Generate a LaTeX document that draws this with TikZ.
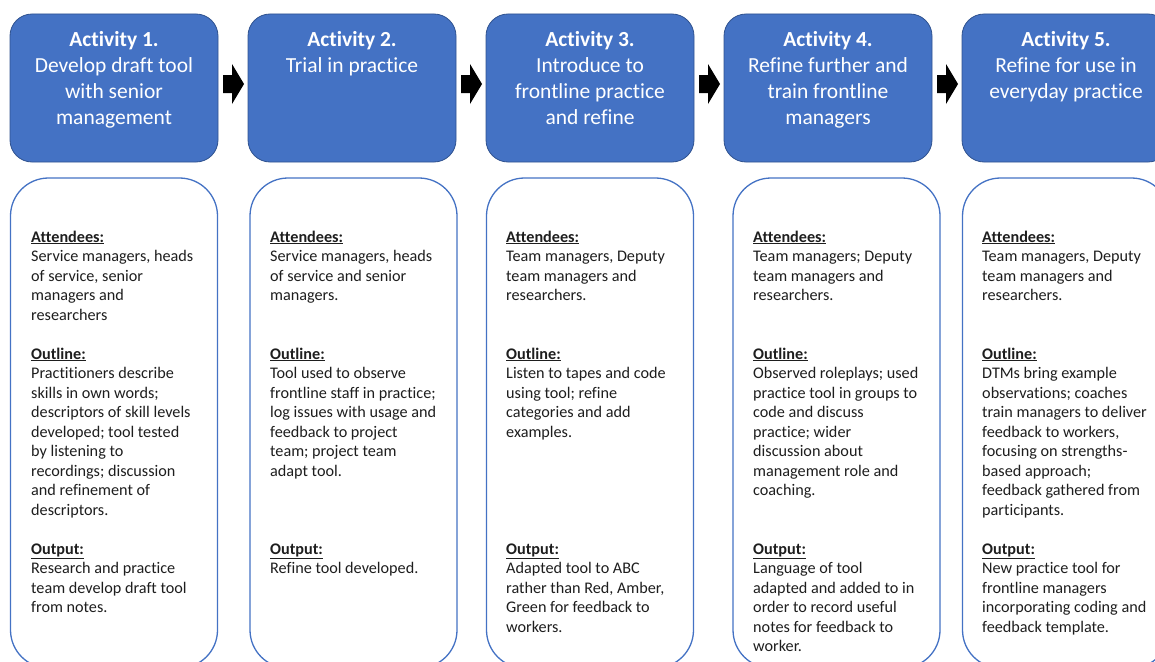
\documentclass[tikz,border=0pt]{standalone}
\usepackage{fontspec}
\setmainfont[Ligatures={NoCommon}]{Carlito}
\definecolor{actblue}{HTML}{4472C4}
\definecolor{actedge}{HTML}{2F528F}
\definecolor{bodytxt}{HTML}{1E1E1E}
\newcommand\bxtext[1]{\parbox[t]{205pt}{\raggedright\fontsize{16.2}{19.5}\selectfont #1}}
\newcommand\tltext[1]{\parbox[t]{205pt}{\centering\fontsize{21.5}{26}\selectfont #1}}
\newcommand\hdr[1]{\underline{\textbf{#1}}}
\begin{document}
\begin{tikzpicture}[x=1pt,y=-1pt,
  topbox/.style={fill=actblue, draw=actedge, line width=0.8pt, rounded corners=22pt,
    minimum width=208pt, minimum height=148pt, anchor=north west, inner sep=0, outer sep=0},
  lowbox/.style={fill=white, draw=actblue, line width=1.3pt, rounded corners=38pt,
    minimum width=207pt, minimum height=490pt, anchor=north west, inner sep=0, outer sep=0},
  title/.style={anchor=base, inner sep=0, text=white},
  body/.style={anchor=base west, inner sep=0, text=bodytxt},
  blockarrow/.style={fill=black}]
\useasboundingbox (0,0) rectangle (1155,661);
\clip (0,0) rectangle (1155,661);

% top boxes
\node[topbox] (t1) at (10,14) {};
\node[topbox] (t2) at (248,14) {};
\node[topbox] (t3) at (486,14) {};
\node[topbox] (t4) at (724,14) {};
\node[topbox] (t5) at (962,14) {};

% lower boxes
\node[lowbox] (l1) at (10.5,178) {};
\node[lowbox] (l2) at (250,178) {};
\node[lowbox] (l3) at (486.5,178) {};
\node[lowbox] (l4) at (733,178) {};
\node[lowbox] (l5) at (962.5,178) {};

% arrows
\foreach \i in {0,...,3}{
  \pgfmathsetmacro{\ax}{223+238*\i}
  \fill[blockarrow] (\ax,75) -- ({\ax+9},75) -- ({\ax+9},64) -- ({\ax+21},84)
    -- ({\ax+9},104) -- ({\ax+9},93) -- (\ax,93) -- cycle;
}

% titles
\node[title] (tt1) at (114,46.7) {\tltext{\textbf{Activity 1.}\\Develop draft tool\\with senior\\management}};
\node[title] (tt2) at (352,46.7) {\tltext{\textbf{Activity 2.}\\Trial in practice}};
\node[title] (tt3) at (590,46.7) {\tltext{\textbf{Activity 3.}\\Introduce to\\frontline practice\\and refine}};
\node[title] (tt4) at (828,46.7) {\tltext{\textbf{Activity 4.}\\Refine further and\\train frontline\\managers}};
\node[title] (tt5) at (1066,46.7) {\tltext{\textbf{Activity 5.}\\Refine for use in\\everyday practice}};

% box 1
\node[body] (a1) at (31,242) {\bxtext{\hdr{Attendees:}\\Service managers, heads\\of service, senior\\managers and\\researchers}};
\node[body] (o1) at (31,359) {\bxtext{\hdr{Outline:}\\Practitioners describe\\skills in own words;\\descriptors of skill levels\\developed; tool tested\\by listening to\\recordings; discussion\\and refinement of\\descriptors.}};
\node[body] (r1) at (31,554) {\bxtext{\hdr{Output:}\\Research and practice\\team develop draft tool\\from notes.}};

% box 2
\node[body] (a2) at (270,242) {\bxtext{\hdr{Attendees:}\\Service managers, heads\\of service and senior\\managers.}};
\node[body] (o2) at (270,359) {\bxtext{\hdr{Outline:}\\Tool used to observe\\frontline staff in practice;\\log issues with usage and\\feedback to project\\team; project team\\adapt tool.}};
\node[body] (r2) at (270,554) {\bxtext{\hdr{Output:}\\Refine tool developed.}};

% box 3
\node[body] (a3) at (506,242) {\bxtext{\hdr{Attendees:}\\Team managers, Deputy\\team managers and\\researchers.}};
\node[body] (o3) at (506,359) {\bxtext{\hdr{Outline:}\\Listen to tapes and code\\using tool; refine\\categories and add\\examples.}};
\node[body] (r3) at (506,554) {\bxtext{\hdr{Output:}\\Adapted tool to ABC\\rather than Red, Amber,\\Green for feedback to\\workers.}};

% box 4
\node[body] (a4) at (753,242) {\bxtext{\hdr{Attendees:}\\Team managers; Deputy\\team managers and\\researchers.}};
\node[body] (o4) at (753,359) {\bxtext{\hdr{Outline:}\\Observed roleplays; used\\practice tool in groups to\\code and discuss\\practice; wider\\discussion about\\management role and\\coaching.}};
\node[body] (r4) at (753,554) {\bxtext{\hdr{Output:}\\Language of tool\\adapted and added to in\\order to record useful\\notes for feedback to\\worker.}};

% box 5
\node[body] (a5) at (982,242) {\bxtext{\hdr{Attendees:}\\Team managers, Deputy\\team managers and\\researchers.}};
\node[body] (o5) at (982,359) {\bxtext{\hdr{Outline:}\\DTMs bring example\\observations; coaches\\train managers to deliver\\feedback to workers,\\focusing on strengths-\\based approach;\\feedback gathered from\\participants.}};
\node[body] (r5) at (982,554) {\bxtext{\hdr{Output:}\\New practice tool for\\frontline managers\\incorporating coding and\\feedback template.}};
\end{tikzpicture}
\end{document}
